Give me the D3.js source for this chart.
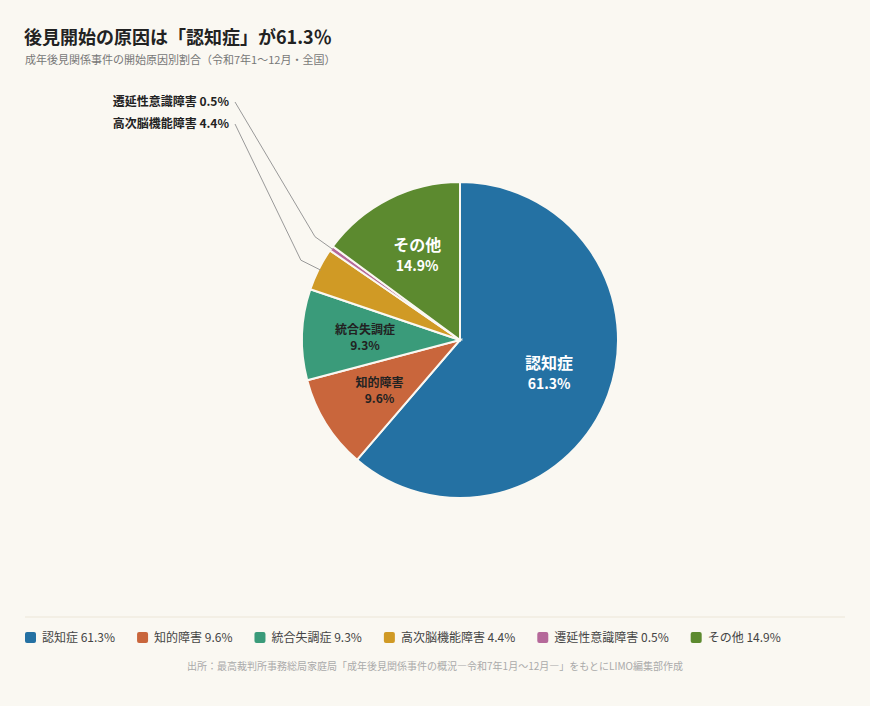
<!DOCTYPE html>
<html><head><meta charset="utf-8">
<script src="https://cdn.jsdelivr.net/npm/d3@7"></script>
<style>
body{margin:0;background:#faf8f2;font-family:"Noto Sans CJK JP","Noto Sans",sans-serif;}
</style></head>
<body><svg id="c" width="870" height="706"></svg>
<script>
var categories = ["認知症","知的障害","統合失調症","高次脳機能障害","遷延性意識障害","その他"];
var values = [61.3, 9.6, 9.3, 4.4, 0.5, 14.9];
var colors = ["#2471a3","#c9663c","#3a9b7a","#d09a25","#b5699a","#5c8a2f"];
var insideLabel = [true, true, true, false, false, true];

var svg = d3.select("#c");
var cx = 460, cy = 340, r = 158;

svg.append("text").attr("x",24).attr("y",44).attr("font-size",18).attr("font-weight","bold").attr("fill","#222")
  .text("後見開始の原因は「認知症」が61.3％");
svg.append("text").attr("x",25).attr("y",64).attr("font-size",11).attr("fill","#777")
  .text("成年後見関係事件の開始原因別割合（令和7年1〜12月・全国）");

var data = categories.map(function(c,i){ return {name:c, value:values[i], color:colors[i], inside:insideLabel[i]}; });
var pie = d3.pie().sort(null).value(function(d){return d.value;});
var arcs = pie(data);
var arc = d3.arc().innerRadius(0).outerRadius(r);
var g = svg.append("g").attr("transform","translate("+cx+","+cy+")");

g.selectAll("path.s").data(arcs).enter().append("path")
  .attr("d",arc).attr("fill",function(d){return d.data.color;})
  .attr("stroke","#faf8f2").attr("stroke-width",2);

function pt(a, rad){ return [Math.sin(a)*rad, -Math.cos(a)*rad]; }

arcs.forEach(function(d){
  var mid = (d.startAngle+d.endAngle)/2;
  var big = d.data.value > 12;
  if (d.data.inside) {
    var p = pt(mid, 95);
    var col = big ? "#fff" : "#222";
    var fs = big ? 16 : 12;
    var t = g.append("text").attr("text-anchor","middle").attr("fill",col).attr("font-weight","bold");
    t.append("tspan").attr("x",p[0]).attr("y",p[1]-(big?4:3)).attr("font-size",fs).text(d.data.name);
    t.append("tspan").attr("x",p[0]).attr("y",p[1]+(big?16:13)).attr("font-size",big?14:12).text(d.data.value.toFixed(1)+"%");
  }
});

// outside labels with leader lines
var outside = arcs.filter(function(d){return !d.data.inside;}).reverse();
outside.forEach(function(d,i){
  var mid = (d.startAngle+d.endAngle)/2;
  var p0 = pt(mid, r-2), p1 = pt(mid, r+20);
  var ly = 102 + i*22 - cy, lx = 235 - cx;
  g.append("polyline").attr("points",[p0,p1,[lx,ly]].map(function(p){return p.join(",");}).join(" "))
    .attr("fill","none").attr("stroke","#999").attr("stroke-width",1);
  g.append("text").attr("x",lx-6).attr("y",ly+4).attr("text-anchor","end")
    .attr("font-size",12).attr("font-weight","bold").attr("fill","#222")
    .text(d.data.name+" "+d.data.value.toFixed(1)+"%");
});

svg.append("line").attr("x1",25).attr("x2",845).attr("y1",617).attr("y2",617).attr("stroke","#ece6d8");

var lx = 25;
var leg = svg.append("g");
data.forEach(function(d){
  leg.append("rect").attr("x",lx).attr("y",632).attr("width",11).attr("height",11).attr("rx",2).attr("fill",d.color);
  var t = leg.append("text").attr("x",lx+17).attr("y",642).attr("font-size",12).attr("fill","#444")
    .text(d.name+"  "+d.value.toFixed(1)+"%");
  lx += t.node().getComputedTextLength() + 17 + 22;
});

svg.append("text").attr("x",435).attr("y",670).attr("text-anchor","middle").attr("font-size",10).attr("fill","#aaa")
  .text("出所：最高裁判所事務総局家庭局「成年後見関係事件の概況―令和7年1月〜12月―」をもとにLIMO編集部作成");
</script></body></html>
